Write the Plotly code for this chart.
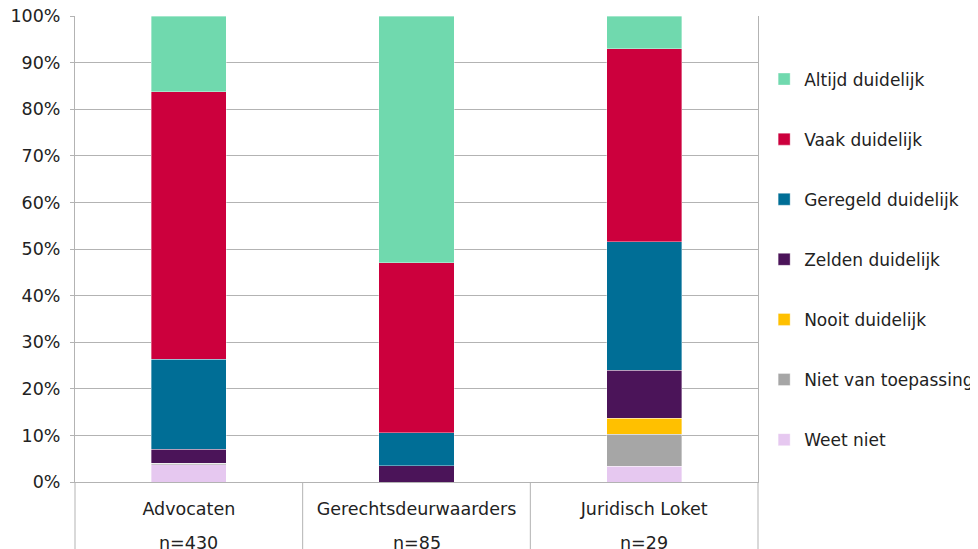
import plotly.graph_objects as go

categories = ["Advocaten", "Gerechtsdeurwaarders", "Juridisch Loket"]
sample_sizes = ["n=430", "n=85", "n=29"]

# series from bottom of stack to top (percent)
series_names = ["Weet niet", "Niet van toepassing", "Nooit duidelijk", "Zelden duidelijk",
                "Geregeld duidelijk", "Vaak duidelijk", "Altijd duidelijk"]
weet_niet = [3.7, 0.0, 3.4]
niet_van_toepassing = [0.3, 0.0, 6.9]
nooit_duidelijk = [0.0, 0.0, 3.4]
zelden_duidelijk = [3.0, 3.5, 10.3]
geregeld_duidelijk = [19.3, 7.1, 27.6]
vaak_duidelijk = [57.4, 36.5, 41.4]
altijd_duidelijk = [16.3, 52.9, 6.9]

series_values = [weet_niet, niet_van_toepassing, nooit_duidelijk, zelden_duidelijk,
                 geregeld_duidelijk, vaak_duidelijk, altijd_duidelijk]
series_colors = ["#E6C8F0", "#A6A6A6", "#FFC000", "#4B1459",
                 "#006E96", "#CC003D", "#70D9AE"]

y_ticks = list(range(0, 101, 10))
y_tick_text = [f"{v}%" for v in y_ticks]

FONT = "DejaVu Sans, Verdana, sans-serif"
GRID = "#B3B3B3"
FS = 17.5

fig = go.Figure()
n_series = len(series_names)
for i, (name, vals, col) in enumerate(zip(series_names, series_values, series_colors)):
    fig.add_trace(go.Bar(
        x=categories, y=vals, name=name, legendgroup=name,
        legendrank=n_series - i,
        marker=dict(color=col, line=dict(color="rgba(255,255,255,0.6)", width=0.6)),
        width=0.33,
    ))

# divider lines below the category axis
shapes = []
for xp in [0, 1/3, 2/3, 1]:
    shapes.append(dict(type="line", xref="paper", yref="paper", x0=xp, x1=xp,
                       y0=0, y1=-0.25, line=dict(color=GRID, width=1)))

annotations = []
for c, n in zip(categories, sample_sizes):
    annotations.append(dict(x=c, xref="x", y=0, yref="paper", yshift=-61,
                            text=n, showarrow=False, yanchor="middle",
                            font=dict(family=FONT, size=FS, color="#222222")))

fig.update_layout(
    width=978, height=549,
    margin=dict(l=67, r=228, t=8, b=75, autoexpand=False),
    paper_bgcolor="white", plot_bgcolor="white",
    barmode="stack",
    font=dict(family=FONT, size=FS, color="#222222"),
    shapes=shapes,
    annotations=annotations,
    showlegend=True,
    legend=dict(traceorder="grouped", tracegroupgap=35,
                x=1.009, xanchor="left", y=0.4775, yanchor="middle",
                font=dict(family=FONT, size=17, color="#222222"),
                itemwidth=30),
    xaxis=dict(tickmode="array", tickvals=categories, ticktext=categories,
               showline=True, linecolor=GRID, linewidth=1, ticks="",
               showgrid=False, tickfont=dict(size=FS), ticklabelstandoff=11),
    yaxis=dict(range=[0, 100], tickmode="array", tickvals=y_ticks, ticktext=y_tick_text,
               showgrid=True, gridcolor=GRID, gridwidth=1,
               showline=True, linecolor=GRID, linewidth=1, mirror=True,
               ticks="outside", ticklen=4, tickcolor=GRID,
               ticklabeloverflow="allow",
               ticklabelstandoff=6, tickfont=dict(size=FS), zeroline=False),
)

fig.write_html("out.html")
